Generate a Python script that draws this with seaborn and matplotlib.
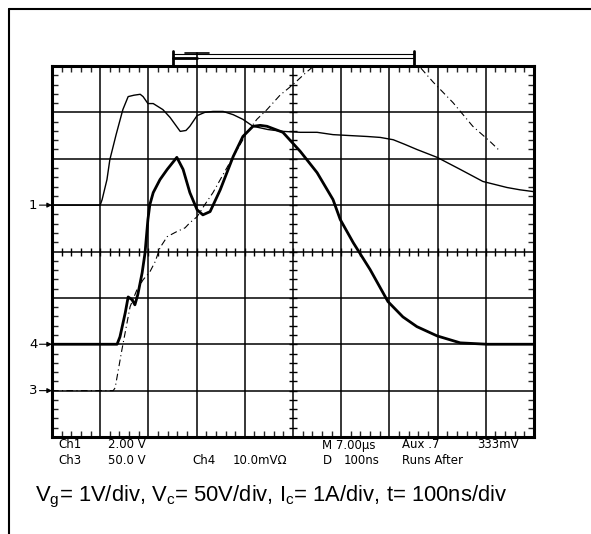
import numpy as np
import pandas as pd
import matplotlib
matplotlib.use("Agg")
import matplotlib.pyplot as plt
from matplotlib.lines import Line2D
import seaborn as sns

# screen units: x in ns (100 ns/div), y in divisions (0 = bottom of graticule)
vg_t = [0, 100, 104, 114, 120, 133, 147, 158, 170, 183, 189, 199, 210, 230, 245,
        266, 278, 286, 301, 317, 334, 355, 376, 396, 417, 448, 479, 515, 550, 583,
        618, 654, 681, 708, 732, 757, 799, 847, 894, 944, 971, 1000]
vg_div = [5.0, 5.0, 5.12, 5.55, 5.98, 6.52, 7.06, 7.34, 7.37, 7.39, 7.34, 7.19, 7.19,
          7.06, 6.89, 6.59, 6.61, 6.70, 6.93, 7.00, 7.02, 7.02, 6.95, 6.85, 6.70,
          6.63, 6.59, 6.57, 6.57, 6.52, 6.50, 6.48, 6.46, 6.41, 6.31, 6.20, 6.03,
          5.77, 5.51, 5.38, 5.33, 5.29]

vc_t = [0, 127, 131, 145, 162, 176, 189, 203, 214, 224, 239, 259, 276, 286, 301,
        317, 334, 355, 376, 405, 425, 446, 473, 500, 525, 542, 556, 753, 764, 791,
        832, 873, 909, 930]
vc_div = [1.0, 1.0, 1.06, 1.88, 2.81, 3.17, 3.39, 3.56, 3.78, 4.08, 4.32, 4.43, 4.51,
          4.62, 4.75, 5.01, 5.27, 5.66, 6.05, 6.57, 6.85, 7.06, 7.37, 7.60, 7.84,
          7.99, 8.0, 8.0, 7.97, 7.65, 7.21, 6.70, 6.37, 6.16]

ic_t = [0, 135, 141, 152, 158, 166, 172, 178, 187, 193, 199, 203, 210, 224, 239, 259,
        272, 286, 301, 313, 328, 349, 376, 396, 417, 432, 446, 479, 515, 550, 583,
        598, 625, 660, 697, 728, 757, 799, 847, 903, 1000]
ic_div = [2.0, 2.0, 2.16, 2.68, 3.02, 2.96, 2.85, 3.07, 3.54, 3.97, 4.69, 5.01, 5.27,
          5.55, 5.77, 6.03, 5.77, 5.27, 4.90, 4.79, 4.86, 5.33, 6.05, 6.48, 6.70,
          6.72, 6.70, 6.57, 6.16, 5.70, 5.12, 4.69, 4.19, 3.61, 2.92, 2.59, 2.38,
          2.18, 2.03, 2.0, 2.0]

ch_labels = ["1", "4", "3"]
ch_levels = [5.0, 2.0, 1.0]
cursor_t = [250, 750]
trigger_t = 300

readout = [
    ("Ch1", 58, 445), ("2.00 V", 108, 445), ("M 7.00\u00b5s", 322, 445),
    ("Aux .7", 402, 445), ("333mV", 477, 445),
    ("Ch3", 58, 460), ("50.0 V", 108, 460), ("Ch4", 192, 460),
    ("10.0mV\u03a9", 233, 460), ("D", 323, 460), ("100ns", 344, 460),
    ("Runs After", 402, 460),
]
caption = r"V$_g$= 1V/div, V$_c$= 50V/div, I$_c$= 1A/div, t= 100ns/div"

sns.set_style("white")
plt.rcParams["font.family"] = ["DejaVu Sans"]
plt.rcParams["mathtext.default"] = "regular"
plt.rcParams["text.color"] = "black"

W, H = 591, 534
fig = plt.figure(figsize=(W / 100, H / 100), dpi=100)
ax = fig.add_axes([52 / W, 1 - 437 / H, (534 - 52) / W, (437 - 66) / H])

df_vg = pd.DataFrame({"t": vg_t, "v": vg_div})
df_vc = pd.DataFrame({"t": vc_t, "v": vc_div})
df_ic = pd.DataFrame({"t": ic_t, "v": ic_div})

sns.lineplot(data=df_vg, x="t", y="v", ax=ax, color="black", lw=1.0,
             estimator=None, sort=False)
sns.lineplot(data=df_vc, x="t", y="v", ax=ax, color="black", lw=0.8,
             estimator=None, sort=False, linestyle=(0, (6, 3, 1, 3)))
sns.lineplot(data=df_ic, x="t", y="v", ax=ax, color="black", lw=2.0,
             estimator=None, sort=False)

# graticule
ax.set_xlim(0, 1000)
ax.set_ylim(0, 8)
ax.set_xticks(np.arange(0, 1001, 100))
ax.set_yticks(np.arange(0, 9, 1))
ax.set_xticks(np.arange(0, 1001, 20), minor=True)
ax.set_yticks(np.arange(0, 8.01, 0.2), minor=True)
ax.grid(True, which="major", color="black", lw=1.1)
ax.tick_params(which="both", labelbottom=False, labelleft=False, direction="in",
               top=True, right=True, bottom=True, left=True)
ax.tick_params(which="major", length=0)
ax.tick_params(which="minor", length=4, width=1.0)
for s in ax.spines.values():
    s.set_linewidth(2.2)
    s.set_color("black")
ax.set_xlabel("")
ax.set_ylabel("")
ax.set_axisbelow(True)

xs = np.arange(0, 1001, 20)
ax.plot(xs, np.full(len(xs), 4.0), ls="none", marker="|", ms=6, mew=1.0, color="black")
ys = np.arange(0, 8.01, 0.2)
ax.plot(np.full(len(ys), 500.0), ys, ls="none", marker="_", ms=6, mew=1.0, color="black")

# channel markers
for lab, lv in zip(ch_labels, ch_levels):
    ax.annotate("", xy=(0, lv), xytext=(-26, lv), annotation_clip=False,
                arrowprops=dict(arrowstyle="-|>", lw=0.8, color="black",
                                mutation_scale=7, shrinkA=0, shrinkB=0))
    ax.text(-30, lv, lab, ha="right", va="center", fontsize=9.5, color="black")

# cursor bar above graticule
ax.plot([cursor_t[0], cursor_t[1]], [8.25, 8.25], color="black", lw=0.8, clip_on=False)
ax.plot([cursor_t[0] + 10, cursor_t[1]], [8.17, 8.17], color="black", lw=0.8, clip_on=False)
for ct in cursor_t:
    ax.plot([ct, ct], [8.0, 8.33], color="black", lw=2.0, clip_on=False)
ax.plot([trigger_t - 25, trigger_t + 25], [8.27, 8.27], color="black", lw=1.2, clip_on=False)
ax.plot([trigger_t, trigger_t], [8.0, 8.27], color="black", lw=1.2, clip_on=False)
ax.plot([cursor_t[0], trigger_t], [8.17, 8.17], color="black", lw=2.0, clip_on=False)

# scope readout
for txt, px, py in readout:
    fig.text(px / W, 1 - py / H, txt, fontsize=8.5, ha="left", va="center",
             color="black")

fig.text(35 / W, 1 - 497 / H, caption, fontsize=15.8, ha="left", va="center",
         color="black", family=["Liberation Sans", "DejaVu Sans"])

# outer frame (top and left edges)
fig.add_artist(Line2D([9 / W, 1.0], [1 - 9 / H, 1 - 9 / H], color="black", lw=1.5,
                      transform=fig.transFigure))
fig.add_artist(Line2D([9 / W, 9 / W], [0.0, 1 - 9 / H], color="black", lw=1.5,
                      transform=fig.transFigure))

fig.savefig("out.png", dpi=100)
plt.close(fig)
